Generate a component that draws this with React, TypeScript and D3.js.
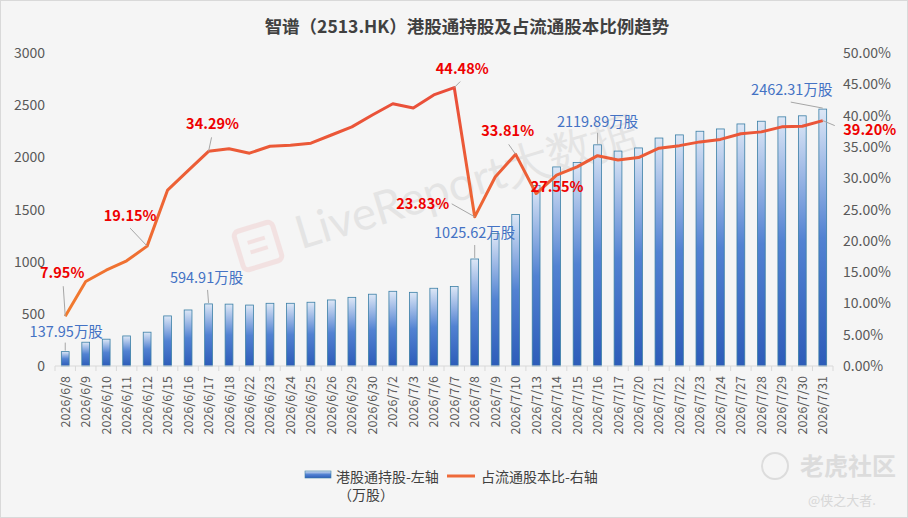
import React from 'react'
import * as d3 from 'd3'

const dates = [
  '2026/6/8', '2026/6/9', '2026/6/10', '2026/6/11', '2026/6/12', '2026/6/15',
  '2026/6/16', '2026/6/17', '2026/6/18', '2026/6/22', '2026/6/23', '2026/6/24',
  '2026/6/25', '2026/6/26', '2026/6/29', '2026/6/30', '2026/7/2', '2026/7/3',
  '2026/7/6', '2026/7/7', '2026/7/8', '2026/7/9', '2026/7/10', '2026/7/13',
  '2026/7/14', '2026/7/15', '2026/7/16', '2026/7/17', '2026/7/20', '2026/7/21',
  '2026/7/22', '2026/7/23', '2026/7/24', '2026/7/27', '2026/7/28', '2026/7/29',
  '2026/7/30', '2026/7/31',
]

// 港股通持股（万股）
const holdings = [
  137.95, 228, 257, 288, 324, 480, 537, 594.91, 593, 584, 601, 601, 611, 633,
  658, 688, 716, 706, 745, 762, 1025.62, 1270, 1452, 1730, 1908, 1950, 2119.89,
  2060, 2090, 2185, 2215, 2250, 2272, 2320, 2346, 2388, 2398, 2462.31,
]

// 占流通股本比（%）
const ratios = [
  7.95, 13.5, 15.3, 16.8, 19.15, 28.1, 31.2, 34.29, 34.7, 34.0, 35.1, 35.25,
  35.6, 36.9, 38.2, 40.1, 41.9, 41.2, 43.3, 44.48, 23.83, 30.2, 33.81, 27.55,
  30.5, 31.8, 33.6, 32.9, 33.3, 34.8, 35.2, 35.8, 36.2, 37.1, 37.4, 38.2, 38.3,
  39.2,
]

const leftTicks = [0, 500, 1000, 1500, 2000, 2500, 3000]
const rightTicks = [0, 5, 10, 15, 20, 25, 30, 35, 40, 45, 50]

const barLabelIdx = [0, 7, 20, 26, 37]
const lineLabelIdx = [0, 4, 7, 19, 20, 22, 23, 37]

const title = '智谱（2513.HK）港股通持股及占流通股本比例趋势'
const legendBar = '港股通持股-左轴'
const legendBarUnit = '（万股）'
const legendLine = '占流通股本比-右轴'

// label offsets relative to the point: text centre (dx, dy), leader start (lx, ly)
type Offset = { dx: number; dy: number; lx?: number; ly?: number }
const barLabelPos: Record<number, Offset> = {
  0: { dx: 1, dy: -19.5, lx: 0, ly: -9 },
  7: { dx: -2, dy: -26, lx: -1, ly: -14 },
  20: { dx: 0, dy: -26, lx: 0, ly: -14 },
  26: { dx: 0, dy: -23, lx: 0, ly: -12 },
  37: { dx: -31, dy: -19, lx: -32, ly: -7 },
}
const lineLabelPos: Record<number, Offset> = {
  0: { dx: -3, dy: -43, lx: -2, ly: -30 },
  4: { dx: -17, dy: -30, lx: -17, ly: -18 },
  7: { dx: 4, dy: -27, lx: 3, ly: -14 },
  19: { dx: 8, dy: -19, lx: 6, ly: -6 },
  20: { dx: -52, dy: -13, lx: -23, ly: -13 },
  22: { dx: -8, dy: -23, lx: -7, ly: -10 },
  23: { dx: 21, dy: -7 },
  37: { dx: 47, dy: 9, lx: 12, ly: 5 },
}

const W = 908
const H = 518
const plot = { left: 55, right: 833, top: 53, bottom: 366 }
const font = '"Noto Sans CJK SC", "Noto Sans", sans-serif'

export default function App() {
  const x = d3
    .scaleBand<string>()
    .domain(dates)
    .range([plot.left, plot.right])
    .paddingInner(0.62)
    .paddingOuter(0.31)
  const step = x.step()
  const cx = (i: number) => x(dates[i])! + x.bandwidth() / 2
  const yL = d3.scaleLinear().domain([0, 3000]).range([plot.bottom, plot.top])
  const yR = d3.scaleLinear().domain([0, 50]).range([plot.bottom, plot.top])

  const linePath = d3
    .line<number>()
    .x((_, i) => cx(i))
    .y((d) => yR(d))(ratios)

  return (
    <div style={{ position: 'absolute', left: 0, top: 0 }}>
      <svg width={W} height={H} style={{ display: 'block', fontFamily: font }}>
        <defs>
          <linearGradient id="barGrad" x1="0" y1="0" x2="0" y2="1">
            <stop offset="0%" stopColor="#dde7f6" />
            <stop offset="50%" stopColor="#5282d2" />
            <stop offset="100%" stopColor="#2d5cb9" />
          </linearGradient>
          <linearGradient
            id="lineGrad"
            gradientUnits="userSpaceOnUse"
            x1="0"
            y1={plot.bottom}
            x2="0"
            y2={plot.top}
          >
            <stop offset="0%" stopColor="#f3862c" />
            <stop offset="100%" stopColor="#e8463c" />
          </linearGradient>
        </defs>

        <rect x={0.5} y={0.5} width={W - 1} height={H - 1} fill="#f5f5f5" stroke="#d9d9d9" />

        {/* watermark */}
        <g transform="translate(258,246) rotate(-17)" opacity={0.1}>
          <rect x={-20} y={-20} width={40} height={40} rx={5} fill="none" stroke="#e04040" strokeWidth={5} />
          <rect x={-9} y={-8} width={18} height={4} fill="#e04040" />
          <rect x={-9} y={2} width={18} height={4} fill="#e04040" />
          <text x={40} y={16} fontSize={46} fill="#555" fontFamily="Lato, sans-serif">
            LiveReport大数据
          </text>
        </g>

        <text
          x={467}
          y={33}
          textAnchor="middle"
          fontSize={17.5}
          fontWeight="bold"
          fill="#404040"
        >
          {title}
        </text>

        {/* left axis */}
        {leftTicks.map((t) => (
          <text key={t} x={45} y={yL(t) + 5} textAnchor="end" fontSize={14} fill="#595959">
            {t}
          </text>
        ))}
        {/* right axis */}
        {rightTicks.map((t) => (
          <text key={t} x={843} y={yR(t) + 5} fontSize={14} fill="#595959">
            {t.toFixed(2)}%
          </text>
        ))}

        {/* bars */}
        {holdings.map((v, i) => (
          <rect
            key={dates[i]}
            x={x(dates[i])}
            y={yL(v)}
            width={x.bandwidth()}
            height={yL(0) - yL(v)}
            fill="url(#barGrad)"
            stroke="#3b7fa6"
            strokeWidth={0.8}
          />
        ))}

        {/* x axis */}
        <line x1={plot.left} x2={plot.right} y1={plot.bottom} y2={plot.bottom} stroke="#d9d9d9" />
        {dates.map((d, i) => (
          <line
            key={d}
            x1={plot.left + step * i}
            x2={plot.left + step * i}
            y1={plot.bottom}
            y2={plot.bottom + 5}
            stroke="#d9d9d9"
          />
        ))}
        <line x1={plot.right} x2={plot.right} y1={plot.bottom} y2={plot.bottom + 5} stroke="#d9d9d9" />
        {dates.map((d, i) => (
          <text
            key={d}
            transform={`translate(${cx(i) + 4.5},${plot.bottom + 10}) rotate(-90)`}
            textAnchor="end"
            fontSize={12.5}
            fill="#595959"
          >
            {d}
          </text>
        ))}

        {/* ratio line */}
        <path d={linePath ?? ''} fill="none" stroke="url(#lineGrad)" strokeWidth={3} strokeLinejoin="round" />

        {/* bar labels */}
        {barLabelIdx.map((i) => {
          const p = barLabelPos[i]
          const ax = cx(i)
          const ay = yL(holdings[i])
          return (
            <g key={'b' + i}>
              {p.ly !== undefined && (
                <line x1={ax + p.lx!} y1={ay + p.ly} x2={ax} y2={ay - 1} stroke="#a6a6a6" strokeWidth={1} />
              )}
              <text x={ax + p.dx} y={ay + p.dy + 5} textAnchor="middle" fontSize={14.5} fill="#4472c4">
                {holdings[i].toFixed(2)}万股
              </text>
            </g>
          )
        })}

        {/* line labels */}
        {lineLabelIdx.map((i) => {
          const p = lineLabelPos[i]
          const ax = cx(i)
          const ay = yR(ratios[i])
          return (
            <g key={'l' + i}>
              {p.ly !== undefined && (
                <line x1={ax + p.lx!} y1={ay + p.ly} x2={ax} y2={ay} stroke="#a6a6a6" strokeWidth={1} />
              )}
              <text
                x={ax + p.dx}
                y={ay + p.dy + 5}
                textAnchor="middle"
                fontSize={14.5}
                fontWeight="bold"
                fill="#ee0000"
              >
                {ratios[i].toFixed(2)}%
              </text>
            </g>
          )
        })}

        {/* legend */}
        <rect x={305} y={471} width={26} height={7} fill="url(#barGrad)" stroke="#3b7fa6" strokeWidth={0.6} />
        <text x={336} y={482} fontSize={14} fill="#404040">
          {legendBar}
        </text>
        <text x={338} y={500} fontSize={14} fill="#404040">
          {legendBarUnit}
        </text>
        <line x1={447} x2={475} y1={476} y2={476} stroke="#ee6a3a" strokeWidth={3} />
        <text x={481} y={482} fontSize={14} fill="#404040">
          {legendLine}
        </text>

        {/* community watermark */}
        <g opacity={0.55}>
          <circle cx={775} cy={466} r={13} fill="none" stroke="#c8c8c8" strokeWidth={2} />
          <text x={800} y={475} fontSize={24} fill="#c8c8c8" fontWeight="bold">
            老虎社区
          </text>
          <text x={808} y={505} fontSize={13} fill="#c0c0c0">
            @侠之大者.
          </text>
        </g>
      </svg>
    </div>
  )
}
